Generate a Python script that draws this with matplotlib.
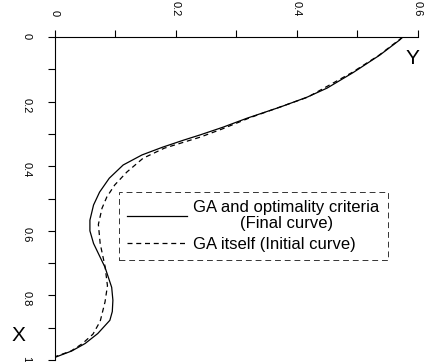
import matplotlib.pyplot as plt
from matplotlib.lines import Line2D
from matplotlib.ticker import MultipleLocator

# depth X (vertical, downwards) and width Y (horizontal) of the two curves
final_x = [0.0, 0.009, 0.056, 0.11, 0.158, 0.186, 0.217, 0.251, 0.279, 0.303,
           0.319, 0.341, 0.365, 0.396, 0.437, 0.480, 0.520, 0.567, 0.600,
           0.639, 0.713, 0.775, 0.815, 0.850, 0.877, 0.918, 0.949, 0.972, 0.992]
final_y = [0.575, 0.570, 0.537, 0.493, 0.450, 0.417, 0.372, 0.318, 0.278, 0.240,
           0.213, 0.178, 0.144, 0.113, 0.090, 0.074, 0.064, 0.058, 0.058,
           0.064, 0.083, 0.094, 0.096, 0.095, 0.091, 0.071, 0.050, 0.028, 0.0]

initial_x = [0.0, 0.056, 0.11, 0.186, 0.25, 0.285, 0.310, 0.344, 0.375, 0.418,
             0.458, 0.495, 0.53, 0.58, 0.64, 0.71, 0.77, 0.82, 0.88, 0.92,
             0.95, 0.972, 0.99]
initial_y = [0.575, 0.536, 0.491, 0.418, 0.322, 0.276, 0.240, 0.181, 0.146,
             0.119, 0.099, 0.086, 0.078, 0.072, 0.075, 0.083, 0.087, 0.083,
             0.075, 0.063, 0.045, 0.027, 0.0]

labels = ["GA and optimality criteria\n(Final curve)", "GA itself (Initial curve)"]

plt.rcParams['font.family'] = ['Liberation Sans', 'DejaVu Sans']

fig = plt.figure(figsize=(4.25, 3.62), dpi=100)
ax = fig.add_axes([0.129, 0.0055, 0.854, 0.892])

ax.plot(final_y, final_x, color="black", linewidth=0.9)
ax.plot(initial_y, initial_x, color="black", linewidth=0.9, linestyle=(0, (4, 3)))

ax.set_xlim(0, 0.6)
ax.set_ylim(1, 0)

# axes on the top and left only
ax.spines["right"].set_visible(False)
ax.spines["bottom"].set_visible(False)
ax.spines["top"].set_linewidth(0.8)
ax.spines["left"].set_linewidth(0.8)
ax.xaxis.tick_top()

ax.xaxis.set_major_locator(MultipleLocator(0.2))
ax.xaxis.set_minor_locator(MultipleLocator(0.1))
ax.yaxis.set_major_locator(MultipleLocator(0.2))
ax.yaxis.set_minor_locator(MultipleLocator(0.1))
ax.xaxis.set_major_formatter(lambda v, p: "0" if v == 0 else f"{v:g}")
ax.yaxis.set_major_formatter(lambda v, p: "0" if v == 0 else f"{v:g}")

ax.tick_params(which="both", direction="out", length=5, width=0.8)
ax.tick_params(axis="x", labelsize=8, labelrotation=-90, pad=10)
ax.tick_params(axis="y", labelsize=8, labelrotation=-90, pad=12)

# axis names
ax.text(0.592, 0.065, "Y", fontsize=15, ha="center", va="center")
ax.text(-0.06, 0.923, "X", fontsize=15, ha="center", va="center")

handles = [Line2D([], [], color="black", linewidth=0.9),
           Line2D([], [], color="black", linewidth=0.9, linestyle=(0, (4, 3)))]
leg = ax.legend(handles, labels, loc="upper right", bbox_to_anchor=(0.917, 0.52),
                fontsize=12, handlelength=3.6, handletextpad=0.35, frameon=True,
                fancybox=False, borderaxespad=0, labelspacing=0.35, borderpad=0.5)
leg.get_frame().set_edgecolor("black")
leg.get_frame().set_linestyle((0, (6, 4)))
leg.get_frame().set_linewidth(0.7)
for t in leg.get_texts():
    t.set_multialignment("center")
    t.set_linespacing(1.05)

fig.savefig("out.png", dpi=100)
plt.close()
